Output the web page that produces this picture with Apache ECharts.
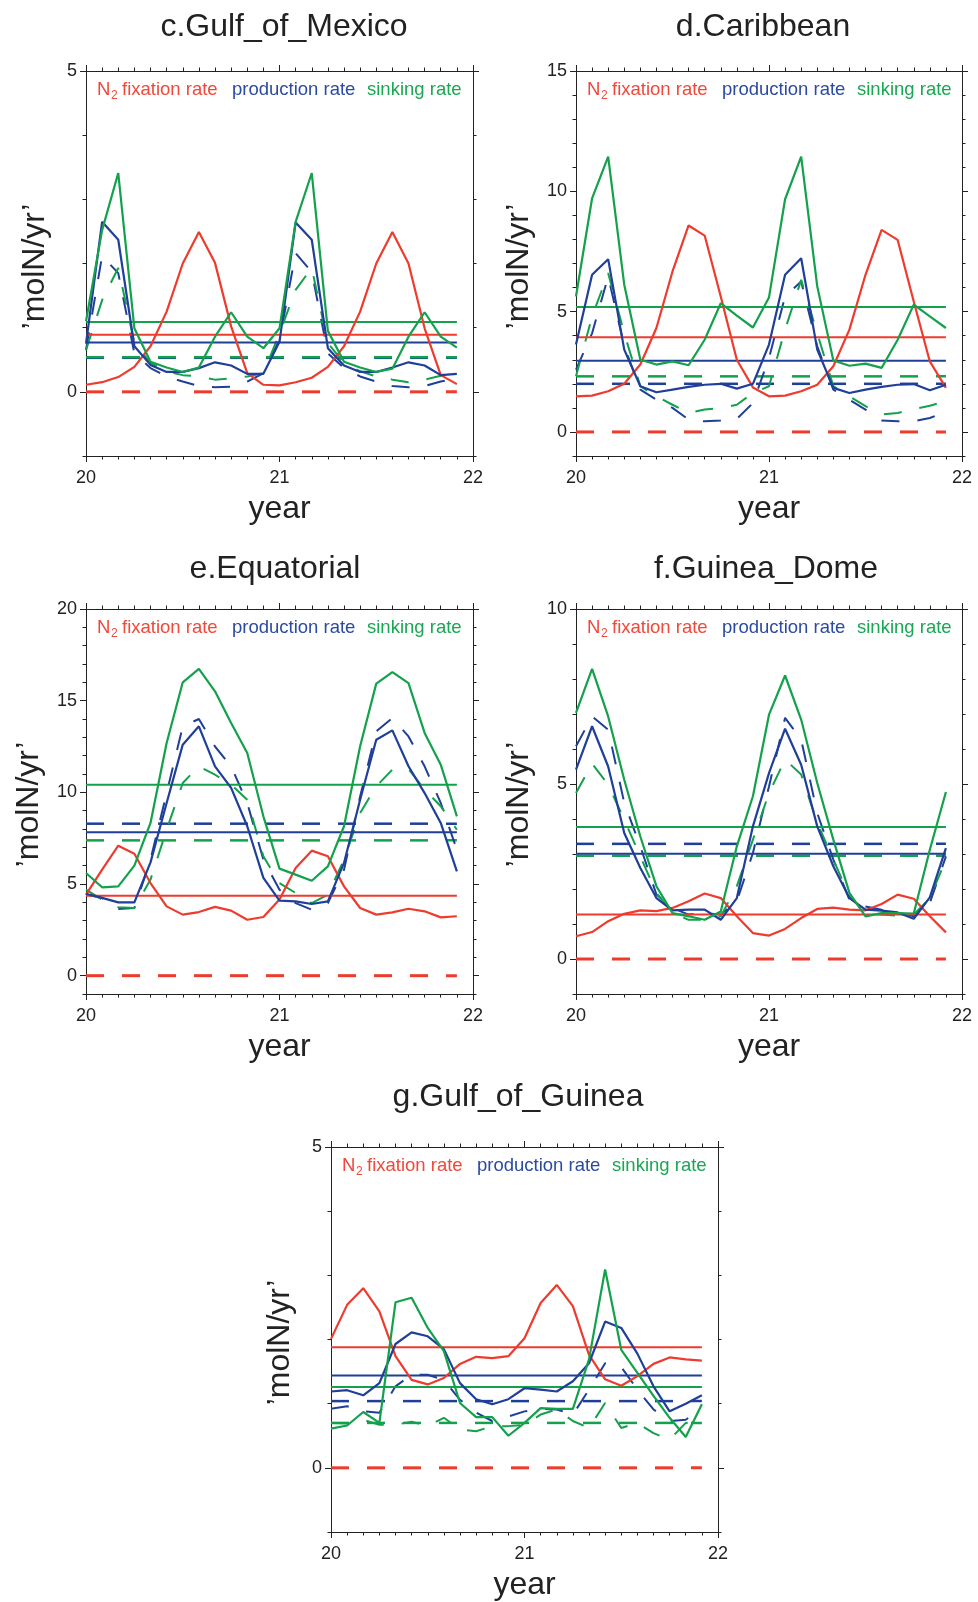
<!DOCTYPE html>
<html>
<head>
<meta charset="utf-8">
<script src="https://cdn.jsdelivr.net/npm/echarts@6/dist/echarts.min.js"></script>
<style>
html,body{margin:0;padding:0;background:#fff;}
#chart{width:978px;height:1602px;}
</style>
</head>
<body>
<div id="chart"></div>
<script>
var FONT = '"Liberation Sans", Arial, sans-serif';
var RED = '#ee3b2d', BLUE = '#1f3f98', GREEN = '#13a14b';
var AXIS = '#222';

// month index of the monthly points, year 20..21.917
var months = [0,1,2,3,4,5,6,7,8,9,10,11,12,13,14,15,16,17,18,19,20,21,22,23];
var xTicks = [20, 21, 22];

// c.Gulf_of_Mexico
var c_n2    = [0.11,0.15,0.23,0.39,0.71,1.25,2.0,2.49,2.01,1.02,0.29,0.11,0.10,0.15,0.22,0.39,0.71,1.25,2.0,2.49,2.0,0.99,0.26,0.12];
var c_prod  = [0.75,2.65,2.37,0.71,0.42,0.31,0.31,0.37,0.46,0.41,0.28,0.28,0.78,2.64,2.37,0.68,0.41,0.31,0.31,0.38,0.46,0.41,0.26,0.28];
var c_sink  = [1.10,2.52,3.41,0.99,0.47,0.38,0.31,0.38,0.86,1.24,0.86,0.68,0.99,2.65,3.41,0.95,0.47,0.38,0.31,0.36,0.86,1.24,0.86,0.69];
var c_prod2 = [0.65,2.12,1.85,0.60,0.37,0.24,0.16,0.09,0.07,0.08,0.16,0.29,0.81,2.16,1.87,0.60,0.37,0.24,0.16,0.09,0.07,0.09,0.16,0.21];
var c_sink2 = [0.65,1.43,1.93,0.76,0.45,0.32,0.26,0.24,0.19,0.21,0.24,0.29,0.91,1.59,1.93,0.76,0.45,0.32,0.24,0.19,0.15,0.19,0.25,0.29];
var c_mean  = {n2:0.89, prod:0.77, sink:1.09, prod2:0.53, sink2:0.54};

// d.Caribbean
var d_n2    = [1.48,1.51,1.69,2.0,2.8,4.32,6.67,8.58,8.16,5.63,3.0,1.85,1.48,1.51,1.69,1.96,2.73,4.25,6.53,8.4,7.98,5.42,2.93,1.83];
var d_prod  = [3.63,6.53,7.18,3.42,1.9,1.65,1.76,1.87,1.96,2.0,1.8,2.0,3.63,6.53,7.22,3.42,1.83,1.62,1.76,1.87,1.96,1.99,1.73,1.96];
var d_sink  = [5.63,9.71,11.44,6.12,3.0,2.8,2.93,2.77,3.83,5.35,4.83,4.34,5.59,9.67,11.44,6.05,2.97,2.75,2.84,2.66,3.83,5.29,4.8,4.32];
var d_prod2 = [2.59,4.1,6.46,3.56,1.76,1.34,1.0,0.51,0.44,0.48,0.54,1.2,3.07,5.63,6.25,3.56,1.76,1.34,0.93,0.48,0.44,0.44,0.58,0.83];
var d_sink2 = [2.31,4.8,6.6,4.1,1.9,1.48,1.13,0.79,0.93,1.0,1.13,1.62,1.9,4.25,6.32,4.1,1.9,1.48,1.07,0.72,0.79,0.95,1.09,1.27];
var d_mean  = {n2:3.93, prod:2.96, sink:5.19, prod2:2.0, sink2:2.31};

// e.Equatorial
var e_n2    = [4.42,5.78,7.09,6.65,5.05,3.78,3.33,3.47,3.75,3.55,3.05,3.2,4.15,5.87,6.82,6.51,4.87,3.69,3.33,3.45,3.65,3.51,3.18,3.24];
var e_prod  = [4.47,4.24,4.0,4.0,6.18,9.42,12.6,13.6,11.42,10.24,8.15,5.33,4.09,4.05,3.91,4.05,6.15,9.6,12.87,13.38,11.42,9.96,8.33,5.69];
var e_sink  = [5.6,4.82,4.87,6.0,8.33,12.69,16.0,16.73,15.51,13.78,12.15,8.69,5.84,5.51,5.18,5.96,8.15,12.51,15.93,16.56,15.96,13.24,11.51,8.69];
var e_prod2 = [4.42,4.24,3.64,3.69,6.33,9.96,13.6,14.0,12.5,11.42,9.42,6.33,4.69,3.96,3.6,3.96,5.78,9.78,13.33,14.05,13.05,11.42,9.42,6.87];
var e_sink2 = [4.69,4.15,3.73,3.69,5.24,7.96,10.51,11.42,10.96,10.42,9.6,6.51,5.05,4.51,3.96,4.42,6.33,8.87,10.33,11.24,11.27,10.15,9.24,7.96];
var e_mean  = {n2:4.36, prod:7.82, sink:10.42, prod2:8.29, sink2:7.38};

// f.Guinea_Dome
var f_n2    = [0.65,0.77,1.08,1.29,1.39,1.37,1.46,1.65,1.87,1.74,1.22,0.74,0.67,0.86,1.17,1.43,1.47,1.41,1.39,1.57,1.84,1.72,1.22,0.76];
var f_prod  = [5.41,6.65,5.5,3.6,2.6,1.74,1.39,1.41,1.41,1.12,1.74,3.79,5.31,6.58,5.55,3.79,2.65,1.74,1.41,1.38,1.33,1.15,1.76,3.17];
var f_sink  = [7.03,8.29,6.93,5.12,3.5,2.08,1.31,1.22,1.12,1.36,3.22,4.65,6.98,8.1,6.84,5.03,3.41,1.89,1.22,1.31,1.31,1.3,3.12,4.77];
var f_prod2 = [6.08,6.93,6.55,4.46,3.22,1.84,1.46,1.27,1.31,1.27,1.65,3.03,4.93,6.89,6.27,4.17,2.84,1.7,1.5,1.41,1.33,1.22,1.6,2.93];
var f_sink2 = [4.74,5.58,4.98,3.98,2.93,1.89,1.31,1.12,1.12,1.22,2.08,3.41,4.74,5.7,5.27,3.89,2.84,1.79,1.31,1.27,1.24,1.27,1.74,2.84];
var f_mean  = {n2:1.27, prod:3.01, sink:3.77, prod2:3.29, sink2:2.95};

// g.Gulf_of_Guinea
var g_n2    = [2.01,2.54,2.8,2.44,1.74,1.37,1.3,1.4,1.62,1.73,1.71,1.74,2.02,2.57,2.85,2.52,1.76,1.38,1.28,1.43,1.62,1.72,1.69,1.67];
var g_prod  = [1.19,1.21,1.13,1.32,1.93,2.11,2.05,1.85,1.32,1.07,0.99,1.07,1.24,1.22,1.19,1.35,1.63,2.28,2.18,1.78,1.27,0.88,1.0,1.13];
var g_sink  = [0.61,0.66,0.87,0.7,2.58,2.65,2.18,1.82,1.01,0.79,0.79,0.5,0.7,0.93,0.92,0.92,1.69,3.09,1.84,1.48,1.12,0.78,0.48,0.99];
var g_prod2 = [0.92,0.96,0.88,0.86,1.27,1.45,1.45,1.37,1.06,0.86,0.73,0.8,0.88,0.92,0.91,0.83,1.22,1.63,1.57,1.22,0.91,0.73,0.75,0.93];
var g_sink2 = [0.7,0.69,0.75,0.67,0.67,0.72,0.65,0.78,0.6,0.57,0.65,0.65,0.67,0.83,0.91,0.73,0.62,1.01,0.62,0.7,0.54,0.44,0.7,0.73];
var g_mean  = {n2:1.88, prod:1.44, sink:1.26, prod2:1.04, sink2:0.7};

var panels = [
  {title:'c.Gulf_of_Mexico', left:86,  top:71,   w:387, h:385, ymax:5,  yLabels:[0,5],         tx:284, ty:27,   nameOff:51,
   n2:c_n2, prod:c_prod, sink:c_sink, prod2:c_prod2, sink2:c_sink2, mean:c_mean},
  {title:'d.Caribbean',      left:576, top:71,   w:386, h:385, ymax:15, yLabels:[0,5,10,15],   tx:763, ty:27,   nameOff:57,
   n2:d_n2, prod:d_prod, sink:d_sink, prod2:d_prod2, sink2:d_sink2, mean:d_mean},
  {title:'e.Equatorial',     left:86,  top:609,  w:387, h:385, ymax:20, yLabels:[0,5,10,15,20],tx:275, ty:569,  nameOff:57,
   n2:e_n2, prod:e_prod, sink:e_sink, prod2:e_prod2, sink2:e_sink2, mean:e_mean},
  {title:'f.Guinea_Dome',    left:576, top:609,  w:386, h:385, ymax:10, yLabels:[0,5,10],      tx:766, ty:569,  nameOff:57,
   n2:f_n2, prod:f_prod, sink:f_sink, prod2:f_prod2, sink2:f_sink2, mean:f_mean},
  {title:'g.Gulf_of_Guinea', left:331, top:1147, w:387, h:385, ymax:5,  yLabels:[0,5],         tx:518, ty:1097, nameOff:51,
   n2:g_n2, prod:g_prod, sink:g_sink, prod2:g_prod2, sink2:g_sink2, mean:g_mean}
];

var xStart = 20 + months[0] / 12;
var xEnd = 20 + months[months.length - 1] / 12;

var grids = [], xAxes = [], yAxes = [], series = [], graphics = [];

var curve = function(gi, vals, color, dash, width) {
  return {
    type: 'line', xAxisIndex: gi * 2, yAxisIndex: gi * 4,
    data: months.map(function(m, i){ return [20 + m / 12, vals[i]]; }),
    symbol: 'none', silent: true, animation: false,
    lineStyle: {color: color, width: width, type: dash ? [18, 18] : 'solid'}
  };
};
var flat = function(gi, v, color, dash, width) {
  return {
    type: 'line', xAxisIndex: gi * 2, yAxisIndex: gi * 4,
    data: [[xStart, v], [xEnd, v]],
    symbol: 'none', silent: true, animation: false,
    lineStyle: {color: color, width: width, type: dash ? [18, 18] : 'solid'}
  };
};
var txt = function(x, y, text, size, color, align, rot) {
  return {
    type: 'text', x: x, y: y, rotation: rot || 0, silent: true,
    style: {text: text, font: size + 'px ' + FONT, fill: color,
            align: align, textAlign: align, verticalAlign: 'middle', textVerticalAlign: 'middle'}
  };
};

panels.forEach(function(p, gi) {
  grids.push({left: p.left, top: p.top, width: p.w, height: p.h, show: false});

  var xBase = {
    gridIndex: gi, type: 'value', min: xTicks[0], max: xTicks[xTicks.length - 1], interval: 1,
    axisLine: {show: true, onZero: false, lineStyle: {color: AXIS, width: 1}},
    axisTick: {show: true, length: 6, lineStyle: {color: AXIS, width: 1}},
    minorTick: {show: true, splitNumber: 12, length: 3.5, lineStyle: {color: AXIS, width: 1}},
    splitLine: {show: false}, minorSplitLine: {show: false}
  };
  xAxes.push(Object.assign({}, xBase, {position: 'bottom',
    axisLabel: {show: true, fontSize: 18, fontFamily: FONT, color: AXIS, margin: 13, showMinLabel: true, showMaxLabel: true}}));
  xAxes.push(Object.assign({}, xBase, {position: 'top', axisLabel: {show: false}}));

  var yBase = {gridIndex: gi, type: 'value', min: -1, max: p.ymax, interval: 1,
    splitLine: {show: false}, axisLine: {show: true, onZero: false, lineStyle: {color: AXIS, width: 1}}};
  var labelled = p.yLabels;
  // short ticks every unit, labels only where the reference has them
  yAxes.push(Object.assign({}, yBase, {position: 'left',
    axisTick: {show: true, length: 3.5, lineStyle: {color: AXIS}},
    axisLabel: {show: true, fontSize: 18, fontFamily: FONT, color: AXIS, margin: 9,
      formatter: function(v){ return labelled.indexOf(v) >= 0 ? String(v) : ''; }}}));
  yAxes.push(Object.assign({}, yBase, {position: 'left', axisLine: {show: false},
    axisTick: {show: true, length: 6, customValues: labelled, lineStyle: {color: AXIS}},
    axisLabel: {show: false, customValues: labelled}}));
  yAxes.push(Object.assign({}, yBase, {position: 'right',
    axisTick: {show: true, length: 3.5, lineStyle: {color: AXIS}}, axisLabel: {show: false}}));
  yAxes.push(Object.assign({}, yBase, {position: 'right', axisLine: {show: false},
    axisTick: {show: true, length: 6, customValues: labelled, lineStyle: {color: AXIS}},
    axisLabel: {show: false, customValues: labelled}}));

  // dashed run first, solid run on top
  series.push(flat(gi, 0, RED, true, 3));
  series.push(flat(gi, p.mean.prod2, BLUE, true, 2.5));
  series.push(flat(gi, p.mean.sink2, GREEN, true, 2.5));
  series.push(curve(gi, p.prod2, BLUE, true, 2));
  series.push(curve(gi, p.sink2, GREEN, true, 2));
  series.push(flat(gi, p.mean.n2, RED, false, 2));
  series.push(flat(gi, p.mean.prod, BLUE, false, 2));
  series.push(flat(gi, p.mean.sink, GREEN, false, 2));
  series.push(curve(gi, p.n2, RED, false, 2.2));
  series.push(curve(gi, p.prod, BLUE, false, 2.2));
  series.push(curve(gi, p.sink, GREEN, false, 2.2));

  graphics.push(txt(p.tx, p.ty, p.title, 32, '#222', 'center'));
  graphics.push(txt(p.left + p.w / 2, p.top + p.h + 53, 'year', 32, '#222', 'center'));
  graphics.push(txt(p.left - p.nameOff, p.top + p.h / 2 + 3, '\u2019molN/yr\u2019', 32, '#222', 'center', Math.PI / 2));

  // legend line inside the frame
  graphics.push(txt(p.left + 11, p.top + 19, 'N', 18.5, '#f0483a', 'left'));
  graphics.push(txt(p.left + 25, p.top + 25, '2', 12, '#f0483a', 'left'));
  graphics.push(txt(p.left + 36, p.top + 19, 'fixation rate', 18.5, '#f0483a', 'left'));
  graphics.push(txt(p.left + 146, p.top + 19, 'production rate', 18.5, '#2b4aa0', 'left'));
  graphics.push(txt(p.left + 281, p.top + 19, 'sinking rate', 18.5, '#1aa752', 'left'));
});

var chart = echarts.init(document.getElementById('chart'), null, {renderer: 'canvas'});
chart.setOption({
  animation: false,
  backgroundColor: '#fff',
  grid: grids,
  xAxis: xAxes,
  yAxis: yAxes,
  series: series,
  graphic: graphics
});
</script>
</body>
</html>
